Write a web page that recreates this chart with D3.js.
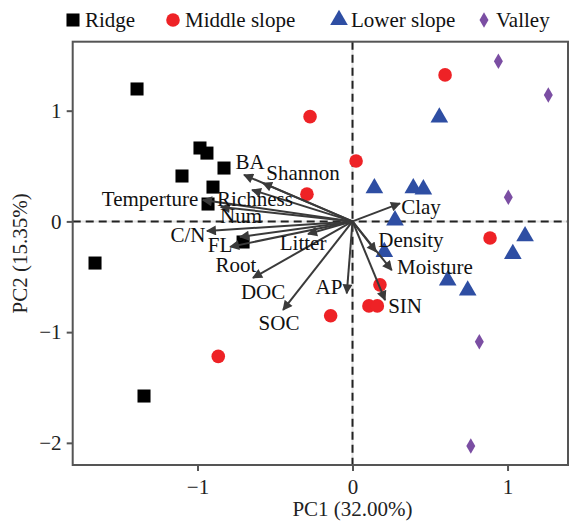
<!DOCTYPE html>
<html>
<head>
<meta charset="utf-8">
<script src="https://cdn.jsdelivr.net/npm/d3@7"></script>
<style>
  body { margin: 0; background: white; }
  text { font-family: "Liberation Serif", "Times New Roman", serif; }
</style>
</head>
<body>
<div id="vis"></div>
<script>
// site groups
let groups = ['Ridge', 'Middle slope', 'Lower slope', 'Valley']

// sample scores (PC1, PC2) per group
let ridgePC1 = [-1.39, -0.984, -0.939, -0.829, -1.10, -0.90, -0.932, -0.706, -1.661, -1.345]
let ridgePC2 = [1.196, 0.663, 0.617, 0.482, 0.41, 0.31, 0.157, -0.186, -0.376, -1.577]
let middlePC1 = [0.597, -0.274, 0.023, -0.294, 0.887, 0.177, 0.106, 0.16, -0.141, -0.866]
let middlePC2 = [1.323, 0.946, 0.545, 0.246, -0.15, -0.573, -0.763, -0.763, -0.852, -1.219]
let lowerPC1 = [0.56, 0.141, 0.392, 0.457, 0.274, 0.205, 1.113, 1.034, 0.614, 0.743]
let lowerPC2 = [0.94, 0.30, 0.30, 0.29, 0.01, -0.275, -0.133, -0.293, -0.533, -0.623]
let valleyPC1 = [0.941, 1.263, 1.005, 0.818, 0.763]
let valleyPC2 = [1.447, 1.141, 0.218, -1.087, -2.029]

// variable loadings
let varNames = ['BA', 'Shannon', 'Richness', 'Temperture', 'Num', 'C/N', 'FL', 'Root', 'DOC', 'SOC',
  'Litter', 'AP', 'SIN', 'Moisture', 'Density', 'Clay']
let loadPC1 = [-0.70, -0.578, -0.648, -0.965, -0.85, -0.939, -0.726, -0.79, -0.642, -0.448,
  -0.287, -0.037, 0.21, 0.253, 0.152, 0.306]
let loadPC2 = [0.42, 0.346, 0.284, 0.193, 0.13, -0.087, -0.14, -0.23, -0.51, -0.80,
  -0.114, -0.65, -0.71, -0.44, -0.274, 0.163]
// where the variable names sit (same units)
let labelPC1 = [-0.661, -0.319, -0.629, -1.306, -0.719, -1.061, -0.855, -0.752, -0.577, -0.474,
  -0.319, -0.152, 0.339, 0.532, 0.377, 0.442]
let labelPC2 = [0.537, 0.437, 0.20, 0.20, 0.049, -0.123, -0.213, -0.394, -0.638, -0.918,
  -0.195, -0.593, -0.764, -0.412, -0.168, 0.130]

let xTicks = [-1, 0, 1]
let yTicks = [1, 0, -1, -2]

let W = 569, H = 523
let svg = d3.select('#vis').append('svg')
  .attr('width', W).attr('height', H)
  .style('background-color', 'white')

let x = d3.scaleLinear().domain([-1.805, 1.39]).range([72.7, 568])
let y = d3.scaleLinear().domain([-2.2, 1.623]).range([465, 41.7])

let color = d3.scaleOrdinal().domain(groups).range(['#000000', '#ee2226', '#2e4ea3', '#7b4ea3'])
let shape = d3.scaleOrdinal().domain(groups)
  .range([d3.symbolSquare, d3.symbolCircle, d3.symbolTriangle, d3.symbolDiamond])
let size = d3.scaleOrdinal().domain(groups).range([170, 145, 135, 70])

// zero lines
let zeroG = svg.append('g')
zeroG.append('line').attr('x1', x(0)).attr('x2', x(0)).attr('y1', y.range()[1]).attr('y2', y.range()[0])
  .attr('stroke', '#e6e6e6').attr('stroke-width', 2)
zeroG.append('line').attr('x1', x.range()[0]).attr('x2', x.range()[1]).attr('y1', y(0)).attr('y2', y(0))
  .attr('stroke', '#e6e6e6').attr('stroke-width', 2)
zeroG.append('line').attr('x1', x(0)).attr('x2', x(0)).attr('y1', y.range()[1]).attr('y2', y.range()[0])
  .attr('stroke', '#222').attr('stroke-width', 2).attr('stroke-dasharray', '8,5')
zeroG.append('line').attr('x1', x.range()[0]).attr('x2', x.range()[1]).attr('y1', y(0)).attr('y2', y(0))
  .attr('stroke', '#222').attr('stroke-width', 2).attr('stroke-dasharray', '8,5')

// points
let samples = []
let pc1s = [ridgePC1, middlePC1, lowerPC1, valleyPC1]
let pc2s = [ridgePC2, middlePC2, lowerPC2, valleyPC2]
groups.forEach((g, i) => {
  pc1s[i].forEach((v, j) => samples.push({ group: g, pc1: v, pc2: pc2s[i][j] }))
})

svg.append('g').selectAll('path')
  .data(samples)
  .join('path')
  .attr('transform', d => `translate(${x(d.pc1)},${y(d.pc2)})`)
  .attr('d', d => d3.symbol().type(shape(d.group)).size(size(d.group))())
  .attr('fill', d => color(d.group))

// arrows
svg.append('defs').append('marker')
  .attr('id', 'head')
  .attr('viewBox', '0 0 10 10')
  .attr('refX', 9).attr('refY', 5)
  .attr('markerWidth', 5.5).attr('markerHeight', 5)
  .attr('markerUnits', 'strokeWidth')
  .attr('orient', 'auto')
  .append('path').attr('d', 'M0,0 L10,5 L0,10 z').attr('fill', '#3a3a3a')

let loadings = varNames.map((n, i) => ({ name: n, pc1: loadPC1[i], pc2: loadPC2[i], lx: labelPC1[i], ly: labelPC2[i] }))

svg.append('g').selectAll('line')
  .data(loadings)
  .join('line')
  .attr('x1', x(0)).attr('y1', y(0))
  .attr('x2', d => x(d.pc1)).attr('y2', d => y(d.pc2))
  .attr('stroke', '#3a3a3a').attr('stroke-width', 2)
  .attr('marker-end', 'url(#head)')

svg.append('g').selectAll('text')
  .data(loadings)
  .join('text')
  .attr('x', d => x(d.lx)).attr('y', d => y(d.ly))
  .attr('text-anchor', 'middle')
  .attr('dominant-baseline', 'central')
  .attr('font-size', 21)
  .attr('fill', '#111')
  .text(d => d.name)

// frame + axes
svg.append('rect')
  .attr('x', x.range()[0]).attr('y', y.range()[1])
  .attr('width', x.range()[1] - x.range()[0]).attr('height', y.range()[0] - y.range()[1])
  .attr('fill', 'none').attr('stroke', '#555').attr('stroke-width', 2)

let xAxis = svg.append('g').attr('transform', `translate(0,${y.range()[0]})`)
  .call(d3.axisBottom(x).tickValues(xTicks).tickSize(6).tickFormat(d3.format('d')))
let yAxis = svg.append('g').attr('transform', `translate(${x.range()[0]},0)`)
  .call(d3.axisLeft(y).tickValues(yTicks).tickSize(6).tickFormat(d3.format('d')))
;[xAxis, yAxis].forEach(a => {
  a.select('.domain').remove()
  a.selectAll('line').attr('stroke', '#555').attr('stroke-width', 2)
  a.selectAll('text').attr('font-size', 21).attr('fill', '#222')
    .style('font-family', '"Liberation Serif", serif')
})
xAxis.selectAll('text').attr('dy', '0.95em')
yAxis.selectAll('text').attr('dx', '-0.1em')

svg.append('text').attr('x', x(0)).attr('y', 516)
  .attr('text-anchor', 'middle').attr('font-size', 21).attr('fill', '#222')
  .text('PC1 (32.00%)')
svg.append('text').attr('transform', `translate(27,${(y.range()[0] + y.range()[1]) / 2}) rotate(-90)`)
  .attr('text-anchor', 'middle').attr('font-size', 21).attr('fill', '#222')
  .text('PC2 (15.35%)')

// legend
let legendX = [73, 173, 339, 484]
let legend = svg.append('g').selectAll('g')
  .data(groups)
  .join('g')
  .attr('transform', (d, i) => `translate(${legendX[i]},20)`)
legend.append('path')
  .attr('d', d => d3.symbol().type(shape(d)).size(size(d))())
  .attr('fill', d => color(d))
legend.append('text')
  .attr('x', 12).attr('dominant-baseline', 'central')
  .attr('font-size', 21).attr('fill', '#111')
  .text(d => d)
</script>
</body>
</html>
